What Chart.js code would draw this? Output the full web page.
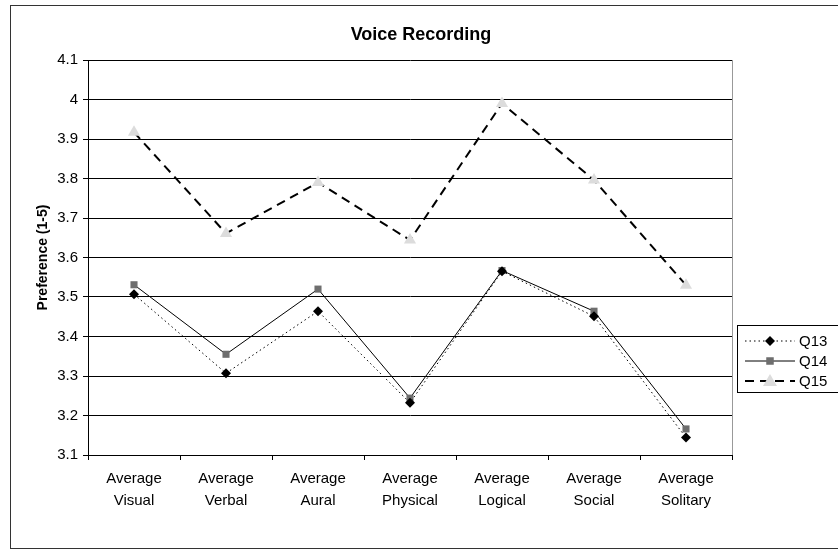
<!DOCTYPE html>
<html>
<head>
<meta charset="utf-8">
<script src="https://cdn.jsdelivr.net/npm/chart.js@4/dist/chart.umd.min.js"></script>
<style>
  html, body { margin: 0; padding: 0; background: #fff; }
  #wrap { width: 838px; height: 560px; }
</style>
</head>
<body>
<div id="wrap"><canvas id="chart" width="838" height="560"></canvas></div>
<script>
// Learning-style preference averages for the voice recording questions
const categories = [
  ["Average", "Visual"],
  ["Average", "Verbal"],
  ["Average", "Aural"],
  ["Average", "Physical"],
  ["Average", "Logical"],
  ["Average", "Social"],
  ["Average", "Solitary"]
];
const q13 = [3.507, 3.307, 3.464, 3.232, 3.565, 3.451, 3.144];
const q14 = [3.531, 3.355, 3.520, 3.244, 3.567, 3.464, 3.166];
const q15 = [3.917, 3.661, 3.790, 3.644, 3.990, 3.796, 3.530];
const seriesNames = ["Q13", "Q14", "Q15"];
const chartTitle = "Voice Recording";
const yMin = 3.1, yMax = 4.1, yStep = 0.1;

const FONT = "'Liberation Sans', Arial, sans-serif";

// Outer frame, centred title, right plot border and the boxed legend
const decorations = {
  id: 'decorations',
  beforeDraw(chart) {
    const ctx = chart.ctx;
    ctx.save();
    ctx.fillStyle = '#fff';
    ctx.fillRect(0, 0, chart.width, chart.height);
    ctx.strokeStyle = '#333';
    ctx.lineWidth = 1;
    ctx.strokeRect(10.5, 5.5, chart.width + 20, 543);
    ctx.fillStyle = '#000';
    ctx.font = 'bold 18px ' + FONT;
    ctx.textAlign = 'center';
    ctx.textBaseline = 'middle';
    ctx.fillText(chartTitle, 421, 35);
    ctx.restore();
  },
  afterDraw(chart) {
    const ctx = chart.ctx;
    const a = chart.chartArea;
    ctx.save();
    // right border of the plot
    ctx.strokeStyle = '#999';
    ctx.lineWidth = 1;
    ctx.beginPath();
    ctx.moveTo(Math.round(a.right) + 0.5, a.top);
    ctx.lineTo(Math.round(a.right) + 0.5, a.bottom);
    ctx.stroke();

    // legend
    const lx = 737, ly = 325, lw = 120, lh = 67;
    ctx.fillStyle = '#fff';
    ctx.fillRect(lx, ly, lw, lh);
    ctx.strokeStyle = '#000';
    ctx.strokeRect(lx + 0.5, ly + 0.5, lw, lh);
    chart.data.datasets.forEach((ds, i) => {
      const y = ly + 16 + i * 20;
      ctx.save();
      ctx.strokeStyle = ds.borderColor;
      ctx.lineWidth = ds.borderWidth;
      ctx.setLineDash(ds.borderDash || []);
      ctx.beginPath();
      ctx.moveTo(lx + 8, y);
      ctx.lineTo(lx + 58, y);
      ctx.stroke();
      ctx.restore();
      ctx.fillStyle = ds.pointBackgroundColor;
      ctx.beginPath();
      const r = ds.pointRadius;
      const cx = lx + 33;
      if (ds.pointStyle === 'rect') {
        ctx.fillRect(cx - r * 0.75, y - r * 0.75, r * 1.5, r * 1.5);
      } else if (ds.pointStyle === 'rectRot') {
        ctx.moveTo(cx, y - r); ctx.lineTo(cx + r, y); ctx.lineTo(cx, y + r); ctx.lineTo(cx - r, y); ctx.closePath(); ctx.fill();
      } else {
        ctx.moveTo(cx, y - r); ctx.lineTo(cx + r, y + r * 0.7); ctx.lineTo(cx - r, y + r * 0.7); ctx.closePath(); ctx.fill();
      }
      ctx.fillStyle = '#000';
      ctx.font = '15px ' + FONT;
      ctx.textBaseline = 'middle';
      ctx.textAlign = 'left';
      ctx.fillText(seriesNames[i], lx + 62, y + 1);
    });
    ctx.restore();
  }
};

new Chart(document.getElementById('chart'), {
  type: 'line',
  data: {
    labels: categories,
    datasets: [
      {
        label: seriesNames[0], data: q13,
        borderColor: '#000', borderWidth: 1, borderDash: [1.5, 3],
        pointStyle: 'rectRot', pointRadius: 5,
        pointBackgroundColor: '#000', pointBorderColor: '#000', pointBorderWidth: 0
      },
      {
        label: seriesNames[1], data: q14,
        borderColor: '#000', borderWidth: 1,
        pointStyle: 'rect', pointRadius: 5,
        pointBackgroundColor: '#6e6e6e', pointBorderColor: '#6e6e6e', pointBorderWidth: 0
      },
      {
        label: seriesNames[2], data: q15,
        borderColor: '#000', borderWidth: 2, borderDash: [9, 6],
        pointStyle: 'triangle', pointRadius: 7,
        pointBackgroundColor: '#dcdcdc', pointBorderColor: '#dcdcdc', pointBorderWidth: 0
      }
    ]
  },
  options: {
    responsive: false,
    animation: false,
    events: [],
    layout: { padding: { top: 60, left: 10, right: 106, bottom: 12 } },
    elements: { line: { tension: 0 } },
    plugins: {
      legend: { display: false },
      tooltip: { enabled: false },
      title: { display: false }
    },
    scales: {
      x: {
        offset: true,
        grid: { display: true, offset: true, drawOnChartArea: false, drawTicks: true, tickLength: 5, color: '#000' },
        border: { display: true, color: '#000' },
        ticks: {
          color: '#000', font: { family: FONT, size: 15, lineHeight: 1.45 }, maxRotation: 0, autoSkip: false, padding: 8
        },
        afterFit(scale) { scale.height = 93; }
      },
      y: {
        min: yMin, max: yMax,
        grid: { color: '#000', drawTicks: true, tickLength: 5 },
        border: { display: true, color: '#000' },
        ticks: {
          stepSize: yStep, color: '#000', font: { family: FONT, size: 15 }, padding: 5,
          callback(v) { return parseFloat(v.toFixed(1)).toString(); }
        },
        title: {
          display: true, text: 'Preference (1-5)', color: '#000',
          font: { family: FONT, size: 14, weight: 'bold' }, padding: { top: 25, bottom: 4 }
        },
        afterFit(scale) { scale.width = 78; }
      }
    }
  },
  plugins: [decorations]
});
</script>
</body>
</html>
